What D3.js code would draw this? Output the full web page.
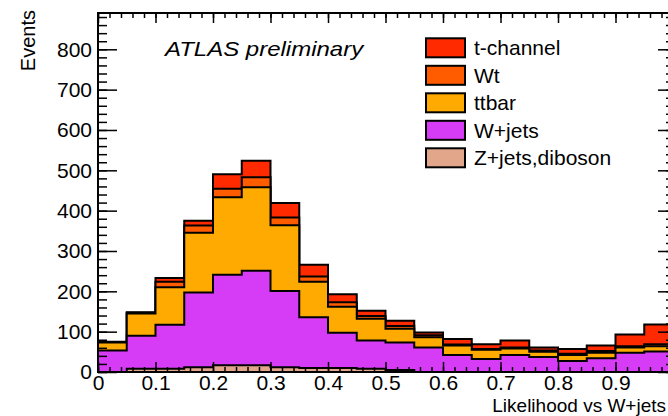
<!DOCTYPE html>
<html>
<head>
<meta charset="utf-8">
<script src="https://cdn.jsdelivr.net/npm/d3@7/dist/d3.min.js"></script>
<style>
  html, body { margin: 0; padding: 0; background: #fff; }
  svg { display: block; font-family: "Liberation Sans", Arial, Helvetica, sans-serif; }
</style>
</head>
<body>
<svg id="chart" width="668" height="416"></svg>
<script>
// ---- data ----
const binEdges = d3.range(0, 21).map(i => i / 20); // 0 .. 1 step 0.05
const zjets   = [0, 8, 8, 12, 17, 17, 12, 10, 10, 8, 5, 0, 0, 0, 0, 0, 0, 0, 0, 0];
const wjets   = [53, 82, 109, 185, 224, 234, 189, 126, 87, 70, 68, 61, 42, 32, 42, 37, 27, 34, 48, 51];
const ttbar   = [20, 55, 93, 148, 192, 207, 163, 88, 65, 54, 34, 25, 24, 23, 16, 13, 15, 14, 13, 13];
const wt      = [1, 2, 14, 18, 21, 25, 19, 13, 11, 7, 7, 5, 2, 2, 3, 3, 3, 4, 3, 5];
const tchan   = [1, 1, 9, 12, 36, 41, 36, 29, 20, 13, 13, 7, 14, 12, 17, 8, 12, 14, 29, 49];

const seriesNames  = ["Z+jets,diboson", "W+jets", "ttbar", "Wt", "t-channel"];
const seriesValues = [zjets, wjets, ttbar, wt, tchan];
const seriesColors = ["#e2a78b", "#d63cf6", "#ffaa00", "#ff5c00", "#ff2a00"];
const legendOrder  = ["t-channel", "Wt", "ttbar", "W+jets", "Z+jets,diboson"];

const xTicks = [0, 0.1, 0.2, 0.3, 0.4, 0.5, 0.6, 0.7, 0.8, 0.9];
const xTickLabels = ["0", "0.1", "0.2", "0.3", "0.4", "0.5", "0.6", "0.7", "0.8", "0.9"];
const yTicks = [0, 100, 200, 300, 400, 500, 600, 700, 800];
const yTickLabels = ["0", "100", "200", "300", "400", "500", "600", "700", "800"];

// ---- layout ----
const svg = d3.select("#chart");
const L = 98, R = 673, T = 13, B = 372;
const x = d3.scaleLinear().domain([0, 1]).range([L, R]);
const y = d3.scaleLinear().domain([0, 890]).range([B, T]);

// cumulative stacks
const nBins = zjets.length;
const cum = [];
let running = new Array(nBins).fill(0);
seriesValues.forEach(vals => {
  running = running.map((r, i) => r + vals[i]);
  cum.push(running.slice());
});

function stepPath(tops) {
  let p = `M${x(binEdges[0])},${y(0)}`;
  tops.forEach((v, i) => {
    p += `L${x(binEdges[i])},${y(v)}L${x(binEdges[i + 1])},${y(v)}`;
  });
  p += `L${x(binEdges[nBins])},${y(0)}Z`;
  return p;
}

const hist = svg.append("g");
for (let k = cum.length - 1; k >= 0; k--) {
  hist.append("path")
    .attr("d", stepPath(cum[k]))
    .attr("fill", seriesColors[k])
    .attr("stroke", "#000")
    .attr("stroke-width", 2)
    .attr("stroke-linejoin", "miter");
}

// ---- frame & ticks ----
const minorX = d3.range(0, 51).map(i => i / 50);
const minorY = d3.range(0, 45).map(i => i * 20);

const ax = svg.append("g").attr("stroke", "#000");
// bottom
ax.append("g").attr("transform", `translate(0,${B})`)
  .call(d3.axisBottom(x).tickValues(minorX).tickSize(-5).tickFormat(""))
  .call(g => g.select(".domain").remove());
ax.append("g").attr("transform", `translate(0,${B})`)
  .call(d3.axisBottom(x).tickValues(xTicks).tickSize(-10).tickPadding(3)
        .tickFormat((d, i) => xTickLabels[i]))
  .call(g => g.select(".domain").remove());
// top
ax.append("g").attr("transform", `translate(0,${T})`)
  .call(d3.axisTop(x).tickValues(minorX).tickSize(-5).tickFormat(""))
  .call(g => g.select(".domain").remove());
ax.append("g").attr("transform", `translate(0,${T})`)
  .call(d3.axisTop(x).tickValues(xTicks).tickSize(-10).tickFormat(""))
  .call(g => g.select(".domain").remove());
// left
ax.append("g").attr("transform", `translate(${L},0)`)
  .call(d3.axisLeft(y).tickValues(minorY).tickSize(-9).tickFormat(""))
  .call(g => g.select(".domain").remove());
ax.append("g").attr("transform", `translate(${L},0)`)
  .call(d3.axisLeft(y).tickValues(yTicks).tickSize(-19).tickPadding(6)
        .tickFormat((d, i) => yTickLabels[i]))
  .call(g => g.select(".domain").remove());
// right
ax.append("g").attr("transform", `translate(${R},0)`)
  .call(d3.axisRight(y).tickValues(minorY).tickSize(-7).tickFormat(""))
  .call(g => g.select(".domain").remove());
ax.append("g").attr("transform", `translate(${R},0)`)
  .call(d3.axisRight(y).tickValues(yTicks).tickSize(-15).tickFormat(""))
  .call(g => g.select(".domain").remove());

ax.selectAll("line").attr("stroke", "#000").attr("stroke-width", 1.5);
ax.selectAll("text")
  .attr("font-size", 21)
  .attr("fill", "#000")
  .attr("stroke", "none")
  .attr("font-family", "'Liberation Sans', Arial, Helvetica, sans-serif");

svg.append("rect")
  .attr("x", L).attr("y", T).attr("width", R - L).attr("height", B - T)
  .attr("fill", "none").attr("stroke", "#000").attr("stroke-width", 2);

// ---- titles ----
svg.append("text")
  .attr("transform", `translate(35,10) rotate(-90)`)
  .attr("text-anchor", "end")
  .attr("font-size", 20)
  .text("Events");

svg.append("text")
  .attr("x", 666).attr("y", 411.8)
  .attr("text-anchor", "end")
  .attr("font-size", 19)
  .text("Likelihood vs W+jets");

svg.append("text")
  .attr("transform", "translate(165,56) scale(1.2,1)")
  .attr("font-size", 20)
  .attr("font-style", "italic")
  .text("ATLAS preliminary");

// ---- legend ----
const leg = svg.append("g");
legendOrder.forEach((name, i) => {
  const k = seriesNames.indexOf(name);
  const cy = 47.8 + i * 27.5;
  leg.append("rect")
    .attr("x", 426).attr("y", cy - 9.5).attr("width", 39).attr("height", 19)
    .attr("fill", seriesColors[k]).attr("stroke", "#000").attr("stroke-width", 2);
  leg.append("text")
    .attr("x", 474).attr("y", cy + 7.5)
    .attr("font-size", 21)
    .text(name);
});
</script>
</body>
</html>
